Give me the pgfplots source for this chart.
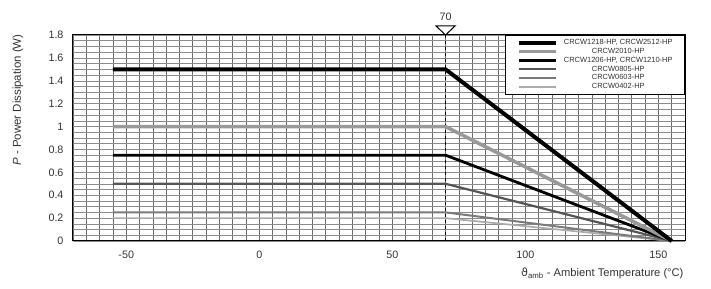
\documentclass[border=0pt]{standalone}
\usepackage{pgfplots}
\pgfplotsset{compat=1.18}
\usepackage{fontspec}
\setmainfont{Liberation Sans}
\newfontfamily\dejavu{DejaVu Sans}
\definecolor{lgA}{HTML}{999999}
\definecolor{lgB}{HTML}{555555}
\definecolor{lgC}{HTML}{7A7A7A}
\definecolor{lgD}{HTML}{ABABAB}
\begin{document}
\begin{tikzpicture}
\useasboundingbox (-73bp,-48bp) rectangle (638bp,241bp);
\begin{axis}[
  at={(0,0)}, anchor=south west,
  scale only axis, width=612bp, height=206bp,
  xmin=-70, xmax=160, ymin=0, ymax=1.8,
  xtick={-50,0,50,100,150}, xticklabels={-50,0,50,100,150},
  ytick={0,0.2,0.4,0.6,0.8,1,1.2,1.4,1.6,1.8},
  yticklabels={0,0.2,0.4,0.6,0.8,1,1.2,1.4,1.6,1.8},
  minor xtick={-70,-65,...,160},
  minor ytick={0,0.05,...,1.81},
  grid=both,
  x grid style={draw=black!58, line width=0.6bp},
  y grid style={draw=black!45, line width=0.55bp},
  major tick length=0pt, minor tick length=0pt,
  axis line style={black, line width=1bp},
  tick label style={font=\fontsize{10.8}{12}\selectfont, black!80},
  xticklabel style={yshift=-6bp},
  yticklabel style={xshift=-6bp},
  clip=false,
  every axis y label/.style={at={(axis description cs:-0.0899,0.684)}, anchor=center, rotate=90, font=\fontsize{11.5}{13}\selectfont, black!80},
  every axis x label/.style={at={(axis description cs:1,0)}, anchor=east, xshift=2bp, yshift=-32bp, font=\fontsize{11.2}{13}\selectfont, black!80},
  ylabel={\textit{P} - Power Dissipation (W)},
  xlabel={{\dejavu ϑ}\textsubscript{amb} - Ambient Temperature (°C)},
  legend style={at={(rel axis cs:1,1)}, anchor=north east, draw=black, line width=0.8bp, fill=white,
    font=\fontsize{7.5}{8}\selectfont, inner xsep=12bp, inner ysep=4bp, row sep=2bp, column sep=6bp,
    nodes={inner sep=0pt, text height=5.3bp, text depth=1.5bp, text=black!80}},
  legend cell align=center,
  legend image code/.code={\draw[#1] (0bp,0bp) -- (37bp,0bp);},
  reverse legend,
]
\draw[black, dashed, line width=0.8bp] (axis cs:70,0) -- (axis cs:70,1.8);
\coordinate (T) at (axis cs:70,1.8);
\addplot[lgD, line width=1.7bp] coordinates {(-55,0.2) (70,0.2) (155,0)};
\addlegendentry{CRCW0402-HP}
\addplot[lgC, line width=2bp] coordinates {(-55,0.25) (70,0.25) (155,0)};
\addlegendentry{CRCW0603-HP}
\addplot[lgB, line width=2.2bp] coordinates {(-55,0.5) (70,0.5) (155,0)};
\addlegendentry{CRCW0805-HP}
\addplot[black, line width=2.8bp] coordinates {(-55,0.75) (70,0.75) (155,0)};
\addlegendentry{CRCW1206-HP, CRCW1210-HP}
\addplot[lgA, line width=3.5bp] coordinates {(-55,1.0) (70,1.0) (155,0)};
\addlegendentry{CRCW2010-HP}
\addplot[black, line width=4bp] coordinates {(-55,1.5) (70,1.5) (155,0)};
\addlegendentry{CRCW1218-HP, CRCW2512-HP}
\end{axis}
\draw[black, fill=white, line width=1bp, line join=miter] (T) -- ([xshift=-9.5bp,yshift=9bp]T) -- ([xshift=9.5bp,yshift=9bp]T) -- cycle;
\node[font=\fontsize{10.8}{12}\selectfont, black!80, anchor=base] at ([yshift=14bp]T) {70};
\end{tikzpicture}
\end{document}
